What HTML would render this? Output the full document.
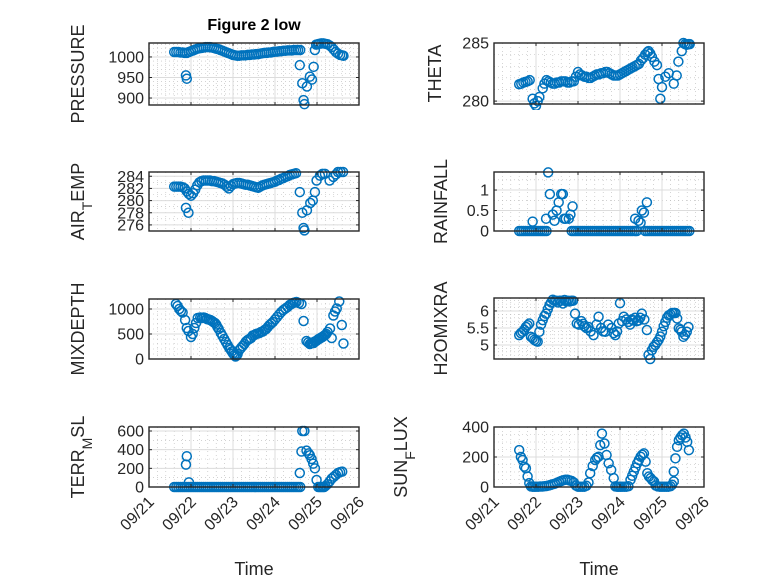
<!DOCTYPE html>
<html><head><meta charset="utf-8"><style>
html,body{margin:0;padding:0;background:#fff;}
svg{display:block;font-family:"Liberation Sans",sans-serif;}
</style></head><body>
<svg id="fig" width="778" height="583" viewBox="0 0 778 583" xmlns="http://www.w3.org/2000/svg">
<rect width="778" height="583" fill="#fff"/>
<text x="254" y="30" text-anchor="middle" font-size="16" font-weight="bold" fill="#000">Figure 2 low</text>
</svg>
<script>
const xTickLabels = ["09/21","09/22","09/23","09/24","09/25","09/26"];

const t_pressure = [0.6,0.65,0.7,0.75,0.8,0.85,0.9,0.95,1.0,1.05,1.1,1.15,1.2,1.25,1.3,1.35,1.4,1.45,1.5,1.55,1.6,1.65,1.7,1.75,1.8,1.85,1.9,1.95,2.0,2.05,2.1,2.15,2.2,2.25,2.3,2.35,2.4,2.45,2.5,2.55,2.6,2.65,2.7,2.75,2.8,2.85,2.9,2.95,3.0,3.05,3.1,3.15,3.2,3.25,3.3,3.35,3.4,3.45,3.5,3.55,3.6,0.88,0.9,3.59,3.65,3.68,3.7,3.76,3.83,3.88,3.92,3.95,3.98,4.02,4.05,4.1,4.15,4.2,4.25,4.3,4.35,4.4,4.45,4.5,4.55,4.6,4.63];
const v_pressure = [1012,1012,1012,1011,1011,1010,1010,1012,1014,1016,1018,1020,1021,1022,1023,1024,1024,1024,1023,1022,1020,1019,1017,1015,1013,1011,1009,1007,1005,1004,1003,1003,1004,1004,1004,1005,1005,1006,1006,1007,1007,1008,1009,1010,1010,1011,1011,1012,1013,1013,1014,1014,1015,1015,1016,1016,1016,1017,1017,1017,1017,955,947,980,936,895,885,928,952,945,976,1017,1030,1031,1032,1033,1033,1032,1031,1028,1024,1018,1012,1008,1005,1004,1003];

const t_theta = [0.6,0.65,0.7,0.75,0.8,0.85,0.92,0.96,1.0,1.04,1.08,1.16,1.2,1.25,1.3,1.35,1.4,1.45,1.5,1.55,1.6,1.65,1.7,1.75,1.8,1.85,1.9,1.95,2.0,2.05,2.1,2.15,2.2,2.25,2.3,2.35,2.4,2.45,2.5,2.55,2.6,2.65,2.7,2.75,2.8,2.85,2.9,2.95,3.0,3.05,3.1,3.15,3.2,3.25,3.3,3.35,3.4,3.45,3.5,3.55,3.6,3.65,3.68,3.72,3.76,3.82,3.88,3.92,3.96,4.0,4.08,4.16,4.28,4.35,4.39,4.47,4.51,4.55,4.59,4.63,4.66];
const v_theta = [281.45,281.5,281.6,281.65,281.7,281.8,280.2,279.8,279.6,280.0,280.35,281.1,281.5,281.8,281.7,281.6,281.5,281.5,281.6,281.6,281.7,281.7,281.7,281.6,281.6,281.7,281.7,282.1,282.5,282.3,282.2,282.1,282.1,282.0,282.0,282.1,282.2,282.3,282.3,282.4,282.4,282.5,282.5,282.4,282.3,282.2,282.2,282.2,282.3,282.4,282.5,282.6,282.7,282.8,282.9,283.0,283.1,283.2,283.5,283.7,284.0,284.2,284.3,284.1,283.8,283.4,283.1,281.9,280.2,281.2,282.1,282.4,281.5,282.2,283.4,284.3,285.0,284.9,284.85,284.9,284.9];

const t_airtemp = [0.6,0.65,0.7,0.75,0.8,0.85,0.9,0.95,1.0,1.05,1.1,1.15,1.2,1.25,1.3,1.35,1.4,1.45,1.5,1.55,1.6,1.65,1.7,1.75,1.8,1.85,1.9,1.95,2.0,2.05,2.1,2.15,2.2,2.25,2.3,2.35,2.4,2.45,2.5,2.55,2.6,2.65,2.7,2.75,2.8,2.85,2.9,2.95,3.0,3.05,3.1,3.15,3.2,3.25,3.3,3.35,3.4,3.45,3.5,0.88,0.94,3.59,3.65,3.68,3.7,3.76,3.84,3.9,3.95,3.99,4.07,4.13,4.19,4.3,4.39,4.45,4.5,4.56,4.62];
const v_airtemp = [282.3,282.3,282.3,282.3,282.2,282.0,281.5,281.1,280.8,281.2,281.8,282.5,283.0,283.2,283.3,283.3,283.3,283.3,283.2,283.2,283.1,283.0,282.9,282.8,282.6,282.3,282.0,282.4,282.7,282.8,282.9,282.9,282.8,282.7,282.6,282.6,282.5,282.4,282.3,282.2,282.1,282.3,282.5,282.6,282.7,282.8,282.9,283.0,283.1,283.3,283.4,283.6,283.7,283.9,284.0,284.2,284.3,284.4,284.5,278.8,278.0,281.4,278.0,275.5,275.1,278.4,279.6,280.0,281.4,283.3,284.1,284.4,284.4,283.3,283.9,284.3,284.7,284.7,284.7];

const t_rain = [0.6,0.65,0.7,0.75,0.8,0.85,0.9,0.95,1.0,1.05,1.1,1.15,1.2,1.25,1.85,1.9,1.95,2.0,2.05,2.1,2.15,2.2,2.25,2.3,2.35,2.4,2.45,2.5,2.55,2.6,2.65,2.7,2.75,2.8,2.85,2.9,2.95,3.0,3.05,3.1,3.15,3.2,3.25,3.3,3.35,3.4,3.6,3.65,3.7,3.75,3.8,3.85,3.9,3.95,4.0,4.05,4.1,4.15,4.2,4.25,4.3,4.35,4.4,4.45,4.5,4.55,4.6,4.65,0.92,1.29,1.24,1.33,1.4,1.44,1.49,1.54,1.6,1.64,1.67,1.71,1.78,1.82,1.87,3.36,3.44,3.49,3.52,3.57,3.64];
const v_rain = [0,0,0,0,0,0,0,0,0,0,0,0,0,0,0,0,0,0,0,0,0,0,0,0,0,0,0,0,0,0,0,0,0,0,0,0,0,0,0,0,0,0,0,0,0,0,0,0,0,0,0,0,0,0,0,0,0,0,0,0,0,0,0,0,0,0,0,0,0.23,1.43,0.3,0.9,0.4,0.25,0.5,0.7,0.9,0.9,0.3,0.3,0.3,0.4,0.6,0.3,0.25,0.2,0.5,0.45,0.7];

const t_mixdepth = [0.64,0.68,0.72,0.76,0.8,0.86,0.9,0.94,1.0,1.04,1.08,1.12,1.16,1.22,1.26,1.3,1.34,1.38,1.42,1.46,1.5,1.53,1.57,1.6,1.63,1.66,1.71,1.75,1.79,1.83,1.87,1.91,1.94,1.97,2.0,2.03,2.06,2.09,2.11,2.15,2.19,2.23,2.27,2.31,2.35,2.39,2.43,2.47,2.51,2.55,2.59,2.63,2.67,2.71,2.75,2.79,2.83,2.87,2.91,2.95,3.0,3.05,3.1,3.15,3.2,3.25,3.3,3.35,3.39,3.43,3.47,3.51,3.57,3.63,3.68,3.75,3.79,3.83,3.86,3.89,3.92,3.95,3.98,4.01,4.04,4.07,4.1,4.13,4.16,4.19,4.22,4.25,4.31,4.35,4.39,4.43,4.47,4.53,4.59,4.63];
const v_mixdepth = [1100,1060,1000,960,930,780,620,560,440,500,620,720,820,830,820,830,820,800,790,780,760,740,720,690,640,600,520,460,400,340,280,220,190,150,110,80,50,70,100,180,220,260,300,350,380,400,420,470,480,500,510,520,540,550,580,600,640,680,710,740,790,840,890,940,980,1010,1040,1080,1100,1120,1130,1140,1120,1100,760,360,330,300,320,330,320,350,360,380,400,410,430,440,460,480,500,540,610,420,870,950,1010,1150,680,310];

const t_h2o = [0.6,0.64,0.68,0.72,0.76,0.8,0.84,0.88,0.92,0.96,1.0,1.04,1.08,1.12,1.16,1.2,1.24,1.28,1.32,1.36,1.4,1.44,1.48,1.52,1.56,1.6,1.64,1.68,1.72,1.76,1.8,1.84,1.88,1.93,1.97,2.02,2.08,2.12,2.15,2.2,2.25,2.3,2.37,2.44,2.49,2.55,2.6,2.65,2.72,2.8,2.85,2.89,2.93,2.97,3.0,3.05,3.09,3.15,3.2,3.24,3.28,3.32,3.36,3.4,3.44,3.48,3.52,3.58,3.64,3.68,3.72,3.76,3.8,3.84,3.88,3.92,3.96,4.0,4.04,4.08,4.12,4.16,4.2,4.24,4.28,4.32,4.36,4.4,4.44,4.47,4.51,4.55,4.59,4.63];
const v_h2o = [5.29,5.35,5.39,5.45,5.53,5.58,5.63,5.24,5.2,5.15,5.12,5.1,5.39,5.6,5.73,5.85,5.92,6.05,6.17,6.25,6.33,6.3,6.3,6.25,6.3,6.3,6.22,6.32,6.28,6.3,6.28,6.3,6.3,5.92,5.63,5.6,5.7,5.62,5.55,5.5,5.53,5.4,5.29,5.6,5.83,5.5,5.4,5.39,5.6,5.5,5.35,5.29,5.4,5.63,6.23,5.7,5.83,5.75,5.68,5.6,5.75,5.72,5.8,5.7,5.72,5.8,5.92,5.75,5.44,4.71,4.59,4.85,4.95,5.0,5.08,5.15,5.25,5.39,5.55,5.68,5.8,5.87,5.9,5.94,5.94,5.94,5.78,5.49,5.45,5.39,5.24,5.3,5.39,5.53];

const t_terr = [0.6,0.65,0.7,0.75,0.8,0.85,0.9,0.95,1.0,1.05,1.1,1.15,1.2,1.25,1.3,1.35,1.4,1.45,1.5,1.55,1.6,1.65,1.7,1.75,1.8,1.85,1.9,1.95,2.0,2.05,2.1,2.15,2.2,2.25,2.3,2.35,2.4,2.45,2.5,2.55,2.6,2.65,2.7,2.75,2.8,2.85,2.9,2.95,3.0,3.05,3.1,3.15,3.2,3.25,3.3,3.35,3.4,3.45,3.5,3.55,3.6,0.88,0.9,0.95,3.59,3.63,3.65,3.7,3.75,3.8,3.83,3.87,3.91,3.95,3.99,4.03,4.07,4.1,4.14,4.17,4.2,4.25,4.3,4.35,4.4,4.45,4.5,4.55,4.6];
const v_terr = [0,0,0,0,0,0,0,0,0,0,0,0,0,0,0,0,0,0,0,0,0,0,0,0,0,0,0,0,0,0,0,0,0,0,0,0,0,0,0,0,0,0,0,0,0,0,0,0,0,0,0,0,0,0,0,0,0,0,0,0,0,240,330,50,150,380,600,600,390,360,340,300,250,200,75,0,0,0,0,0,10,30,60,90,110,130,150,160,165];

const t_sun = [0.6,0.64,0.68,0.72,0.76,0.8,0.84,0.88,0.92,0.96,1.0,1.05,1.1,1.15,1.2,1.25,1.3,1.35,1.4,1.45,1.5,1.55,1.6,1.65,1.7,1.75,1.8,1.85,1.9,1.95,2.0,2.05,2.1,2.15,2.2,2.25,2.29,2.35,2.41,2.45,2.49,2.53,2.57,2.63,2.68,2.73,2.79,2.85,2.89,2.93,2.97,3.01,3.05,3.1,3.15,3.2,3.25,3.29,3.33,3.37,3.41,3.45,3.49,3.53,3.57,3.61,3.65,3.69,3.73,3.77,3.81,3.85,3.9,3.95,4.0,4.05,4.1,4.15,4.2,4.24,4.28,4.28,4.32,4.36,4.4,4.44,4.48,4.52,4.56,4.6,4.64];
const v_sun = [246,200,180,136,125,70,26,4,2,2,2,2,3,3,5,7,10,14,18,22,28,34,40,45,48,48,44,40,30,10,2,2,2,2,8,30,92,140,180,195,202,279,356,290,213,158,114,59,4,2,2,2,2,2,2,5,48,75,103,130,158,180,202,215,224,169,92,70,59,45,37,10,4,2,2,2,2,2,5,15,37,103,191,268,312,330,345,356,330,301,246];

const NS='http://www.w3.org/2000/svg';
const svg=document.getElementById('fig');
function mk(tag,attrs,parent){const e=document.createElementNS(NS,tag);for(const k in attrs)e.setAttribute(k,attrs[k]);(parent||svg).appendChild(e);return e;}

function panel(cfg){
  const g=mk('g',{});
  
  
  const L=cfg.x0,R=cfg.x1,T=cfg.y0,B=cfg.y1;
  const sx=d=>L+(d/5)*(R-L);
  const sy=v=>B-(v-cfg.ymin)/(cfg.ymax-cfg.ymin)*(B-T);
  for(let d=0;d<=5.0001;d+=0.2){const x=sx(d);mk('line',{x1:x,x2:x,y1:T,y2:B,stroke:'#b8b8b8','stroke-width':0.6,'stroke-dasharray':'1 3'},g);}
  for(let v=cfg.minorStart;v<=cfg.ymax;v+=cfg.minor){const y=sy(v);if(y<T||y>B)continue;mk('line',{x1:L,x2:R,y1:y,y2:y,stroke:'#b8b8b8','stroke-width':0.6,'stroke-dasharray':'1 3'},g);}
  for(let d=0;d<=5;d++){const x=sx(d);mk('line',{x1:x,x2:x,y1:T,y2:B,stroke:'#dcdcdc','stroke-width':1},g);}
  cfg.yticks.forEach(v=>{const y=sy(v);mk('line',{x1:L,x2:R,y1:y,y2:y,stroke:'#dcdcdc','stroke-width':1},g);});
  const clip='clip-'+cfg.name;
  const cp=mk('clipPath',{id:clip},g);mk('rect',{x:L-6,y:T-6,width:R-L+12,height:B-T+12},cp);
  const dg=mk('g',{'clip-path':'url(#'+clip+')'},g);
  
  
  cfg.t.forEach((d,i)=>{
    const c=mk('circle',{cx:sx(d),cy:sy(cfg.v[i]),r:4.5,fill:'none',stroke:'#0072BD','stroke-width':1.5},dg);
    
    
  });
  mk('rect',{x:L,y:T,width:R-L,height:B-T,fill:'none',stroke:'#262626','stroke-width':1.4},g);
  for(let d=0;d<=5;d++){const x=sx(d);mk('line',{x1:x,x2:x,y1:B,y2:B-3,stroke:'#262626'},g);mk('line',{x1:x,x2:x,y1:T,y2:T+3,stroke:'#262626'},g);}
  cfg.yticks.forEach((v,i)=>{const y=sy(v);mk('line',{x1:L,x2:L+3,y1:y,y2:y,stroke:'#262626'},g);mk('line',{x1:R,x2:R-3,y1:y,y2:y,stroke:'#262626'},g);
    const tx=mk('text',{x:L-5,y:y+5.5,'text-anchor':'end','font-size':16,fill:'#262626'},g);tx.textContent=cfg.ylabels[i];
    
    
  });
  if(cfg.xlabels){
    xTickLabels.forEach((s,i)=>{const x=sx(i);
      const tx=mk('text',{x:0,y:0,'text-anchor':'end','font-size':16,fill:'#262626',transform:'translate('+(x+6)+','+(B+16)+') rotate(-45)'},g);tx.textContent=s;
      
      
    });
    const xt=mk('text',{x:(L+R)/2,y:575,'text-anchor':'middle','font-size':18,fill:'#262626'},g);xt.textContent='Time';
    
    
  }
  const yl=mk('text',{x:0,y:0,'text-anchor':'middle','font-size':18,fill:'#262626',transform:'translate('+cfg.lx+','+((T+B)/2)+') rotate(-90)'},g);
  cfg.ylab.forEach(p=>{const ts=mk('tspan',p[1]?{'baseline-shift':'sub','font-size':14}:{},yl);ts.textContent=p[0];});
  
  
}
const LX0=149,LX1=359,RX0=494,RX1=704;
panel({name:'pressure',x0:LX0,x1:LX1,y0:43,y1:105,ymin:883,ymax:1034,yticks:[900,950,1000],ylabels:['900','950','1000'],minor:10,minorStart:890,t:t_pressure,v:v_pressure,lx:84,ylab:[['PRESSURE']]});
panel({name:'theta',x0:RX0,x1:RX1,y0:43,y1:104,ymin:279.75,ymax:285,yticks:[280,285],ylabels:['280','285'],minor:1,minorStart:281,t:t_theta,v:v_theta,lx:441,ylab:[['THETA']]});
panel({name:'air-temp',x0:LX0,x1:LX1,y0:172,y1:231,ymin:275,ymax:284.7,yticks:[276,278,280,282,284],ylabels:['276','278','280','282','284'],minor:1,minorStart:275,t:t_airtemp,v:v_airtemp,lx:84,ylab:[['AIR'],['T',1],['EMP']]});
panel({name:'rainfall',x0:RX0,x1:RX1,y0:172,y1:231,ymin:0,ymax:1.44,yticks:[0,0.5,1],ylabels:['0','0.5','1'],minor:0.25,minorStart:0.25,t:t_rain,v:v_rain,lx:447,ylab:[['RAINFALL']]});
panel({name:'mixdepth',x0:LX0,x1:LX1,y0:299,y1:359,ymin:0,ymax:1200,yticks:[0,500,1000],ylabels:['0','500','1000'],minor:100,minorStart:100,t:t_mixdepth,v:v_mixdepth,lx:84,ylab:[['MIXDEPTH']]});
panel({name:'h2omixra',x0:RX0,x1:RX1,y0:298,y1:359,ymin:4.59,ymax:6.38,yticks:[5,5.5,6],ylabels:['5','5.5','6'],minor:0.1,minorStart:4.6,t:t_h2o,v:v_h2o,lx:447,ylab:[['H2OMIXRA']]});
panel({name:'terr-msl',x0:LX0,x1:LX1,y0:427,y1:487,ymin:0,ymax:643,yticks:[0,200,400,600],ylabels:['0','200','400','600'],minor:100,minorStart:100,t:t_terr,v:v_terr,lx:84,ylab:[['TERR'],['M',1],['SL']],xlabels:true});
panel({name:'sun-flux',x0:RX0,x1:RX1,y0:427,y1:487,ymin:0,ymax:400,yticks:[0,200,400],ylabels:['0','200','400'],minor:50,minorStart:50,t:t_sun,v:v_sun,lx:407,ylab:[['SUN'],['F',1],['LUX']],xlabels:true});
</script>
</body></html>
